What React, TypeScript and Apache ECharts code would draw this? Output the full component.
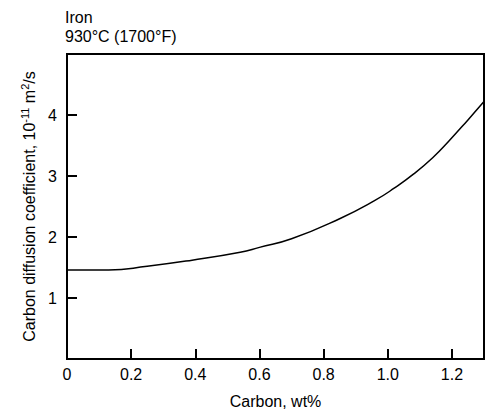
import React, { useEffect, useRef } from "react";
import * as echarts from "echarts";

const carbonWt = [0, 0.13, 0.25, 0.39, 0.54, 0.6, 0.7, 0.85, 0.96, 1.02, 1.08, 1.14, 1.19, 1.25, 1.3];
const diffusion = [1.46, 1.46, 1.52, 1.62, 1.75, 1.83, 1.97, 2.3, 2.6, 2.8, 3.03, 3.3, 3.57, 3.92, 4.22];
const titleLines = ["Iron", "930°C (1700°F)"];

const FONT = "'Liberation Sans', Arial, Helvetica, sans-serif";

export default function App() {
  const ref = useRef<HTMLDivElement>(null);
  useEffect(() => {
    if (!ref.current) return;
    const chart = echarts.init(ref.current, null, { renderer: "svg" });
    chart.setOption({
      animation: false,
      backgroundColor: "#fff",
      textStyle: { fontFamily: FONT },
      grid: {
        left: 67,
        right: 6,
        top: 54,
        bottom: 54,
        show: true,
        borderColor: "#000",
        borderWidth: 2,
      },
      graphic: titleLines.map((t, i) => ({
        type: "text",
        left: 65,
        top: 9 + i * 19,
        style: { text: t, fontSize: 16, fontFamily: FONT, fill: "#000" },
      })),
      xAxis: {
        type: "value",
        min: 0,
        max: 1.3,
        interval: 0.2,
        name: "Carbon, wt%",
        nameLocation: "middle",
        nameGap: 34,
        nameTextStyle: { fontSize: 16, color: "#000", fontFamily: FONT },
        axisLine: { show: true, lineStyle: { color: "#000", width: 2 } },
        axisTick: { show: true, inside: true, length: 10, lineStyle: { color: "#000", width: 2 } },
        axisLabel: {
          fontSize: 16,
          color: "#000",
          margin: 7,
          fontFamily: FONT,
          showMaxLabel: false,
          formatter: (v: number) => (v === 0 ? "0" : v.toFixed(1)),
        },
        splitLine: { show: false },
      },
      yAxis: {
        type: "value",
        min: 0,
        max: 5,
        interval: 1,
        name: "Carbon diffusion coefficient, 10{sup|-11} m{sup|2}/s",
        nameLocation: "middle",
        nameGap: 28,
        nameTextStyle: {
          fontSize: 16,
          color: "#000",
          fontFamily: FONT,
          rich: {
            sup: { fontSize: 11, fontFamily: FONT, color: "#000", verticalAlign: "bottom", padding: [0, 0, 9, 0] },
          },
        },
        axisLine: { show: true, lineStyle: { color: "#000", width: 2 } },
        axisTick: { show: true, inside: true, length: 10, lineStyle: { color: "#000", width: 2 } },
        axisLabel: {
          fontSize: 16,
          color: "#000",
          margin: 10,
          fontFamily: FONT,
          formatter: (v: number) => (v === 0 || v === 5 ? "" : String(v)),
        },
        splitLine: { show: false },
      },
      series: [
        {
          type: "line",
          data: carbonWt.map((x, i) => [x, diffusion[i]]),
          smooth: 0.5,
          showSymbol: false,
          lineStyle: { color: "#000", width: 1.5 },
        },
      ],
    });
    return () => chart.dispose();
  }, []);
  return (
    <div
      ref={ref}
      style={{ position: "fixed", left: 0, top: 0, width: 490, height: 414 }}
    />
  );
}
